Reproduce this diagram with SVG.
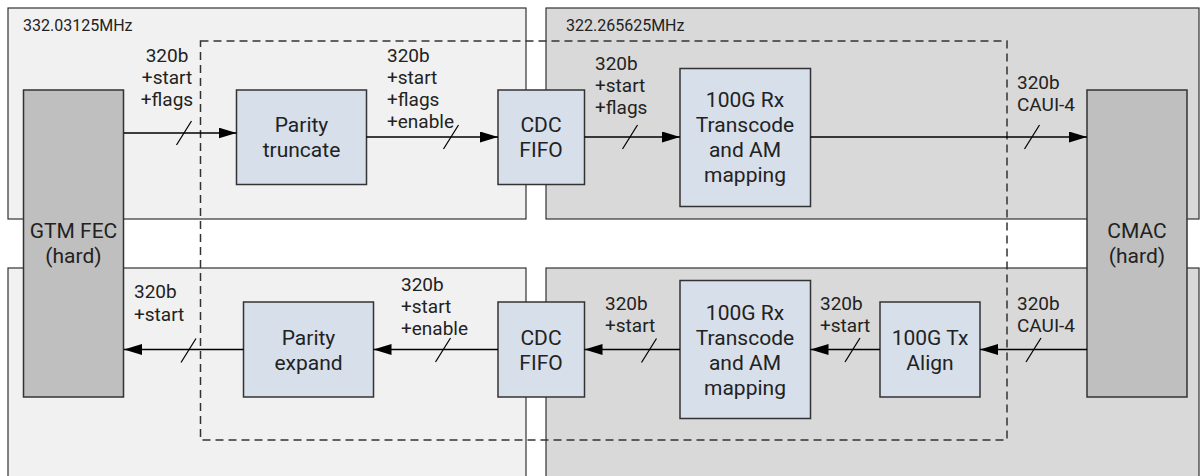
<svg xmlns="http://www.w3.org/2000/svg" width="1201" height="476" viewBox="0 0 1201 476">
<defs>
<marker id="ah" markerUnits="userSpaceOnUse" markerWidth="19" markerHeight="12" refX="18" refY="5.5" orient="auto">
<path d="M0,0 L18,5.5 L0,11 z" fill="#000"/>
</marker>
<style>
.pl{fill:#f1f1f1;stroke:#333;stroke-width:1.2}
.pd{fill:#d9d9d9;stroke:#333;stroke-width:1.2}
.hard{fill:#bfbfbf;stroke:#333;stroke-width:1.5}
.blk{fill:#d6dfea;stroke:#333;stroke-width:1.5}
.bt{font-family:Roboto,"Liberation Sans",sans-serif;font-size:21px;fill:#222;text-anchor:middle}
.lt{font-family:Roboto,"Liberation Sans",sans-serif;font-size:19px;fill:#222}
.ft{font-family:Roboto,"Liberation Sans",sans-serif;font-size:16px;fill:#222}
.cn{stroke:#000;stroke-width:1.5;fill:none}
.sl{stroke:#000;stroke-width:1.2;fill:none}
</style>
</defs>
<rect width="1201" height="476" fill="#fff"/>
<g id="panels">
<rect class="pl" x="8" y="8" width="518" height="211"/>
<rect class="pd" x="546" y="8" width="653" height="211"/>
<rect class="pl" x="8" y="268" width="518" height="220"/>
<rect class="pd" x="546" y="268" width="653" height="220"/>
<text class="ft" x="23" y="31">332.03125MHz</text>
<text class="ft" x="566" y="31">322.265625MHz</text>
</g>
<rect id="boundary" x="200.5" y="41" width="806.5" height="399" fill="none" stroke="#333" stroke-width="1.5" stroke-dasharray="8 5"/>
<g id="gtm"><rect class="hard" x="23.5" y="90" width="100" height="307"/><text class="bt"><tspan x="73.5" y="238">GTM FEC</tspan><tspan x="73.5" y="263">(hard)</tspan></text></g>
<g id="cmac"><rect class="hard" x="1087" y="90" width="100" height="307"/><text class="bt"><tspan x="1137" y="238">CMAC</tspan><tspan x="1137" y="263">(hard)</tspan></text></g>
<g id="truncate"><rect class="blk" x="236.5" y="90" width="130" height="94.5"/><text class="bt"><tspan x="301.5" y="132">Parity</tspan><tspan x="301.5" y="157">truncate</tspan></text></g>
<g id="cdc_top"><rect class="blk" x="498" y="90" width="86.5" height="94.5"/><text class="bt"><tspan x="541" y="132">CDC</tspan><tspan x="541" y="157">FIFO</tspan></text></g>
<g id="rx_top"><rect class="blk" x="680" y="68.5" width="130.5" height="138"/><text class="bt"><tspan x="745" y="107">100G Rx</tspan><tspan x="745" y="132">Transcode</tspan><tspan x="745" y="157">and AM</tspan><tspan x="745" y="182">mapping</tspan></text></g>
<g id="expand"><rect class="blk" x="243.5" y="302" width="130" height="95"/><text class="bt"><tspan x="308.5" y="344.5">Parity</tspan><tspan x="308.5" y="369.5">expand</tspan></text></g>
<g id="cdc_bot"><rect class="blk" x="498" y="302" width="86.5" height="95"/><text class="bt"><tspan x="541" y="344.5">CDC</tspan><tspan x="541" y="369.5">FIFO</tspan></text></g>
<g id="rx_bot"><rect class="blk" x="680" y="280.5" width="130.5" height="138"/><text class="bt"><tspan x="745" y="319.5">100G Rx</tspan><tspan x="745" y="344.5">Transcode</tspan><tspan x="745" y="369.5">and AM</tspan><tspan x="745" y="394.5">mapping</tspan></text></g>
<g id="align"><rect class="blk" x="880" y="302" width="100" height="95"/><text class="bt"><tspan x="930" y="344.5">100G Tx</tspan><tspan x="930" y="369.5">Align</tspan></text></g>
<g id="connectors">
<line class="cn" x1="124" y1="133" x2="236.5" y2="133" marker-end="url(#ah)"/>
<line class="sl" x1="176.5" y1="145" x2="191.5" y2="121"/>
<line class="cn" x1="366.5" y1="137" x2="498" y2="137" marker-end="url(#ah)"/>
<line class="sl" x1="443.5" y1="149" x2="458.5" y2="125"/>
<line class="cn" x1="584.5" y1="137" x2="680" y2="137" marker-end="url(#ah)"/>
<line class="sl" x1="622.5" y1="149" x2="637.5" y2="125"/>
<line class="cn" x1="810.5" y1="137" x2="1087" y2="137" marker-end="url(#ah)"/>
<line class="sl" x1="1024.5" y1="149" x2="1039.5" y2="125"/>
<line class="cn" x1="1087" y1="349.5" x2="980" y2="349.5" marker-end="url(#ah)"/>
<line class="sl" x1="1026" y1="362" x2="1041" y2="338"/>
<line class="cn" x1="880" y1="349.5" x2="810.5" y2="349.5" marker-end="url(#ah)"/>
<line class="sl" x1="845" y1="362" x2="860" y2="338"/>
<line class="cn" x1="680" y1="349.5" x2="584.5" y2="349.5" marker-end="url(#ah)"/>
<line class="sl" x1="641.5" y1="362.5" x2="656.5" y2="338.5"/>
<line class="cn" x1="498" y1="349.5" x2="373.5" y2="349.5" marker-end="url(#ah)"/>
<line class="sl" x1="435.5" y1="362" x2="450.5" y2="338"/>
<line class="cn" x1="243.5" y1="349.5" x2="124" y2="349.5" marker-end="url(#ah)"/>
<line class="sl" x1="181" y1="362.5" x2="196" y2="338.5"/>
</g>
<g id="labels">
<text class="lt" text-anchor="middle"><tspan x="167" y="62">320b</tspan><tspan x="167" y="84">+start</tspan><tspan x="167" y="106">+flags</tspan></text>
<text class="lt"><tspan x="387" y="62">320b</tspan><tspan x="387" y="84">+start</tspan><tspan x="387" y="106">+flags</tspan><tspan x="387" y="128">+enable</tspan></text>
<text class="lt"><tspan x="595" y="70">320b</tspan><tspan x="595" y="92">+start</tspan><tspan x="595" y="114">+flags</tspan></text>
<text class="lt"><tspan x="1017" y="89">320b</tspan><tspan x="1017" y="111">CAUI-4</tspan></text>
<text class="lt"><tspan x="134" y="298">320b</tspan><tspan x="134" y="321">+start</tspan></text>
<text class="lt"><tspan x="401" y="291">320b</tspan><tspan x="401" y="313">+start</tspan><tspan x="401" y="335">+enable</tspan></text>
<text class="lt"><tspan x="605" y="310">320b</tspan><tspan x="605" y="332">+start</tspan></text>
<text class="lt"><tspan x="820" y="310">320b</tspan><tspan x="820" y="332">+start</tspan></text>
<text class="lt"><tspan x="1017" y="310">320b</tspan><tspan x="1017" y="332">CAUI-4</tspan></text>
</g>
</svg>
